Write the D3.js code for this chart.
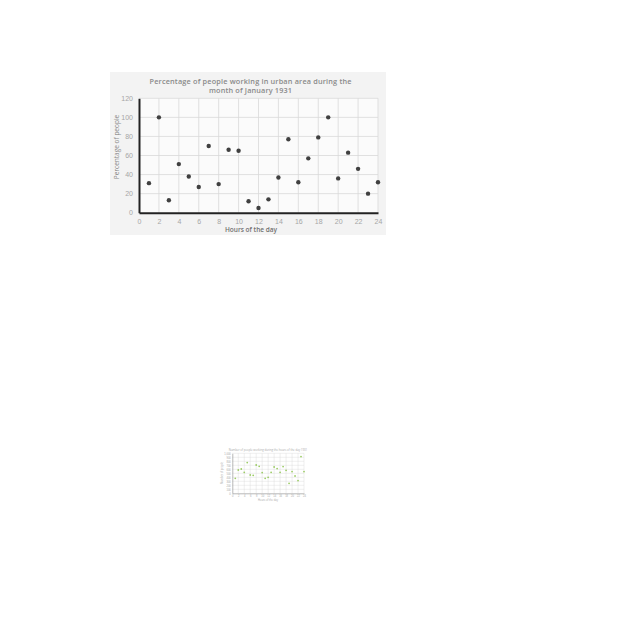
<!DOCTYPE html>
<html><head><meta charset="utf-8">
<script src="https://cdn.jsdelivr.net/npm/d3@7"></script>
<style>html,body{margin:0;padding:0;background:#fff;}svg{display:block;font-family:"Open Sans","Liberation Sans",sans-serif;}</style>
</head><body>
<svg id="c" width="640" height="640"></svg>
<script>
// Main chart data
const hours = [1,2,3,4,5,6,7,8,9,10,11,12,13,14,15,16,17,18,19,20,21,22,23,24];
const percentWorking = [31,100,13,51,38,27,70,30,66,65,12,5,14,37,77,32,57,79,100,36,63,46,20,32];
const yTicks = [0,20,40,60,80,100,120];
const xTicks = [0,2,4,6,8,10,12,14,16,18,20,22,24];
const titleLines = ["Percentage of people working in urban area during the","month of January 1931"];

// Small chart data
const smallHours = [1,2,3,4,5,6,7,8,9,10,11,12,13,14,15,16,17,18,19,20,21,22,23,24];
const smallValues = [375,583,608,525,767,458,450,708,675,517,375,400,525,658,617,525,667,575,250,542,433,317,917,542];
const smallYTicks = [0,100,200,300,400,500,600,700,800,900,1000];
const smallXTicks = [0,2,4,6,8,10,12,14,16,18,20,22,24];

const svg = d3.select("#c");

// ---------- main chart ----------
const g = svg.append("g");
g.append("rect").attr("x",110).attr("y",72).attr("width",276).attr("height",163).attr("fill","#f3f3f3");
const x = d3.scaleLinear().domain([0,24]).range([139,378]);
const y = d3.scaleLinear().domain([0,120]).range([212.7,98.3]);
g.append("rect").attr("x",x(0)).attr("y",y(120)).attr("width",x(24)-x(0)).attr("height",y(0)-y(120)).attr("fill","#fbfbfb");

// gridlines
g.append("g").selectAll("line").data(yTicks.filter(d=>d>0)).join("line")
  .attr("x1",x(0)).attr("x2",x(24)).attr("y1",d=>y(d)).attr("y2",d=>y(d))
  .attr("stroke","#d9d9d9").attr("stroke-width",0.8);
g.append("g").selectAll("line").data(xTicks.filter(d=>d>0)).join("line")
  .attr("x1",d=>x(d)).attr("x2",d=>x(d)).attr("y1",y(0)).attr("y2",y(120))
  .attr("stroke","#d9d9d9").attr("stroke-width",0.8);

// axes
const yAxis = d3.axisLeft(y).tickValues(yTicks).tickSize(0).tickPadding(6);
const yg = g.append("g").attr("transform",`translate(${x(0)},0)`).call(yAxis);
yg.select(".domain").attr("stroke","#222").attr("stroke-width",2);
yg.selectAll("text").attr("fill","#a6a6a6").attr("font-size",7);
const xAxis = d3.axisBottom(x).tickValues(xTicks).tickSize(0).tickPadding(6);
const xg = g.append("g").attr("transform",`translate(0,${y(0)})`).call(xAxis);
xg.select(".domain").attr("stroke","#222").attr("stroke-width",2);
xg.selectAll("text").attr("fill","#a6a6a6").attr("font-size",7);

// points
g.append("g").selectAll("circle").data(hours).join("circle")
  .attr("cx",(d)=>x(d)).attr("cy",(d,i)=>y(percentWorking[i])).attr("r",2.2).attr("fill","#404040");

// title
g.append("text").attr("x",250.5).attr("y",83.5).attr("text-anchor","middle")
  .attr("font-size",7.3).attr("font-weight",600).attr("fill","#8a8a8a")
  .attr("textLength",202).attr("lengthAdjust","spacing").text(titleLines[0]);
g.append("text").attr("x",250.5).attr("y",92.5).attr("text-anchor","middle")
  .attr("font-size",7.3).attr("font-weight",600).attr("fill","#8a8a8a")
  .attr("textLength",83).attr("lengthAdjust","spacing").text(titleLines[1]);
// axis titles
g.append("text").attr("x",251).attr("y",231.5).attr("text-anchor","middle")
  .attr("font-size",6.5).attr("font-weight",600).attr("fill","#707070").text("Hours of the day");
g.append("text").attr("transform","translate(118.5,147) rotate(-90)").attr("text-anchor","middle")
  .attr("font-size",6.5).attr("fill","#8a8a8a").text("Percentage of people");

// ---------- small chart ----------
const s = svg.append("g");
const sx = d3.scaleLinear().domain([0,24]).range([232.3,304]);
const sy = d3.scaleLinear().domain([0,1000]).range([493.3,453.3]);
s.append("g").selectAll("line").data(smallYTicks.filter(d=>d>0)).join("line")
  .attr("x1",sx(0)).attr("x2",sx(24)).attr("y1",d=>sy(d)).attr("y2",d=>sy(d))
  .attr("stroke","#d6d6d6").attr("stroke-width",0.4);
s.append("g").selectAll("line").data(smallXTicks.filter(d=>d>0)).join("line")
  .attr("x1",d=>sx(d)).attr("x2",d=>sx(d)).attr("y1",sy(0)).attr("y2",sy(1000))
  .attr("stroke","#d6d6d6").attr("stroke-width",0.4);
const syg = s.append("g").attr("transform",`translate(${sx(0)},0)`).call(d3.axisLeft(sy).tickValues(smallYTicks).tickSize(0).tickPadding(1.5));
syg.select(".domain").attr("stroke","#888").attr("stroke-width",0.6);
syg.selectAll("text").attr("fill","#a8a8a8").attr("font-size",2.6);
const sxg = s.append("g").attr("transform",`translate(0,${sy(0)})`).call(d3.axisBottom(sx).tickValues(smallXTicks).tickSize(0).tickPadding(1.5));
sxg.select(".domain").attr("stroke","#888").attr("stroke-width",0.6);
sxg.selectAll("text").attr("fill","#a8a8a8").attr("font-size",2.6);
s.append("g").selectAll("circle").data(smallHours).join("circle")
  .attr("cx",d=>sx(d)).attr("cy",(d,i)=>sy(smallValues[i])).attr("r",0.9).attr("fill","#9ccc65");
s.append("text").attr("x",268).attr("y",450.5).attr("text-anchor","middle").attr("font-size",2.8).attr("fill","#a8a8a8")
  .text("Number of people working during the hours of the day 1931");
s.append("text").attr("x",268).attr("y",500.5).attr("text-anchor","middle").attr("font-size",2.6).attr("fill","#a8a8a8")
  .text("Hours of the day");
s.append("text").attr("transform","translate(222.5,473) rotate(-90)").attr("text-anchor","middle").attr("font-size",2.6).attr("fill","#a8a8a8")
  .text("Number of people");
</script>
</body></html>
